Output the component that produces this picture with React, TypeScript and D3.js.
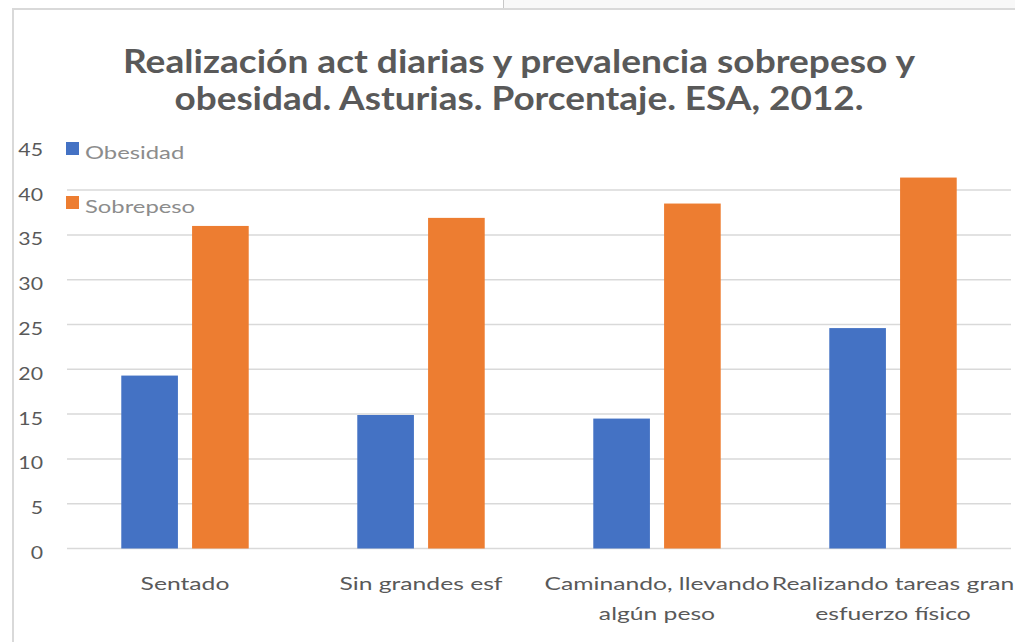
import * as d3 from "d3";
import React from "react";
import { useRef, useEffect } from "react";

// chart data
const categories = ["Sentado", "Sin grandes esf", "Caminando, llevando algún peso", "Realizando tareas gran esfuerzo físico"];
const categoryLines = [["Sentado"], ["Sin grandes esf"], ["Caminando, llevando", "algún peso"], ["Realizando tareas gran", "esfuerzo físico"]];
const seriesNames = ["Obesidad", "Sobrepeso"];
const obesidad = [19.3, 14.9, 14.5, 24.6];
const sobrepeso = [36.0, 36.9, 38.5, 41.4];
const yTicks = [0, 5, 10, 15, 20, 25, 30, 35, 40, 45];
const titleLines = ["Realización act diarias y prevalencia sobrepeso y", "obesidad. Asturias. Porcentaje. ESA, 2012."];

const colors = ["#4472c4", "#ed7d31"];

export default function App() {
  const ref = useRef(null);
  const width = 1015;
  const height = 642;
  const margin = { left: 67, right: 4, top: 145.3, bottom: 93.5 };

  useEffect(() => {
    const svg = d3.select(ref.current);
    svg.selectAll("*").remove();
    const font = "Lato, 'Open Sans', sans-serif";

    // stretch text horizontally like the source picture
    const stretch = (sel, factor) => {
      sel.each(function () {
        const w = this.getComputedTextLength();
        d3.select(this).attr("textLength", w * factor).attr("lengthAdjust", "spacingAndGlyphs");
      });
    };

    // frame of the screenshot
    svg.append("rect").attr("x", 503).attr("y", 0).attr("width", 512).attr("height", 9).attr("fill", "#f8f8f8");
    svg.append("line").attr("x1", 503.5).attr("x2", 503.5).attr("y1", 0).attr("y2", 9).attr("stroke", "#c8c8c8");
    svg.append("line").attr("x1", 12).attr("x2", width).attr("y1", 9).attr("y2", 9).attr("stroke", "#d9d9d9").attr("stroke-width", 2);
    svg.append("line").attr("x1", 13).attr("x2", 13).attr("y1", 9).attr("y2", height).attr("stroke", "#d9d9d9").attr("stroke-width", 2);

    // scales
    const x0 = d3.scaleBand().domain(categories).range([margin.left, width - margin.right]).paddingInner(0.46).paddingOuter(0.23);
    const x1 = d3.scaleBand().domain(seriesNames).range([0, x0.bandwidth()]).paddingInner(0.2);
    const y = d3.scaleLinear().domain([0, 45]).range([height - margin.bottom, margin.top]);

    // gridlines (no line at 45)
    svg.append("g").selectAll("line").data(yTicks.filter((t) => t < 45)).enter().append("line")
      .attr("x1", margin.left).attr("x2", width - margin.right)
      .attr("y1", (d) => y(d)).attr("y2", (d) => y(d))
      .attr("stroke", "#d9d9d9").attr("stroke-width", 1.5);

    // y labels
    const yl = svg.append("g").selectAll("text").data(yTicks).enter().append("text")
      .attr("x", 43).attr("y", (d) => y(d) + 10.5)
      .attr("text-anchor", "end")
      .style("font-family", font).style("font-size", "17px").attr("fill", "#595959")
      .text((d) => d);
    stretch(yl, 1.25);

    // bars
    const values = [obesidad, sobrepeso];
    const groups = svg.append("g").selectAll("g").data(categories).enter().append("g")
      .attr("transform", (d) => `translate(${x0(d)},0)`);
    groups.selectAll("rect").data((d, i) => seriesNames.map((s, k) => ({ s, v: values[k][i] }))).enter().append("rect")
      .attr("x", (d) => x1(d.s))
      .attr("width", x1.bandwidth())
      .attr("y", (d) => y(d.v))
      .attr("height", (d) => y(0) - y(d.v))
      .attr("fill", (d, k) => colors[k]);

    // x labels
    categories.forEach((c, i) => {
      const t = svg.append("text")
        .attr("x", x0(c) + x0.bandwidth() / 2).attr("y", 590)
        .attr("text-anchor", "middle")
        .style("font-family", font).style("font-size", "18px").attr("fill", "#595959");
      categoryLines[i].forEach((line, j) => {
        const ts = t.append("tspan").attr("x", x0(c) + x0.bandwidth() / 2).attr("dy", j === 0 ? 0 : 30).text(line);
        stretch(ts, 1.37);
      });
    });

    // legend
    seriesNames.forEach((s, k) => {
      const ly = 142 + k * 54;
      svg.append("rect").attr("x", 66).attr("y", ly).attr("width", 13).attr("height", 13).attr("fill", colors[k]);
      const lt = svg.append("text").attr("x", 85).attr("y", ly + 17)
        .style("font-family", font).style("font-size", "17px").attr("fill", "#8c8c8c")
        .text(s);
      stretch(lt, 1.4);
    });

    // title
    const titleWidths = [792, 689];
    titleLines.forEach((line, j) => {
      svg.append("text")
        .attr("x", 519).attr("y", 73 + j * 37)
        .attr("text-anchor", "middle")
        .attr("textLength", titleWidths[j]).attr("lengthAdjust", "spacingAndGlyphs")
        .style("font-family", font).style("font-size", "33px").style("font-weight", "bold")
        .attr("fill", "#595959")
        .text(line);
    });
  }, []);

  return (
    <svg ref={ref} width={width} height={height}
      style={{ position: "absolute", left: 0, top: 0, background: "#fff" }} />
  );
}
